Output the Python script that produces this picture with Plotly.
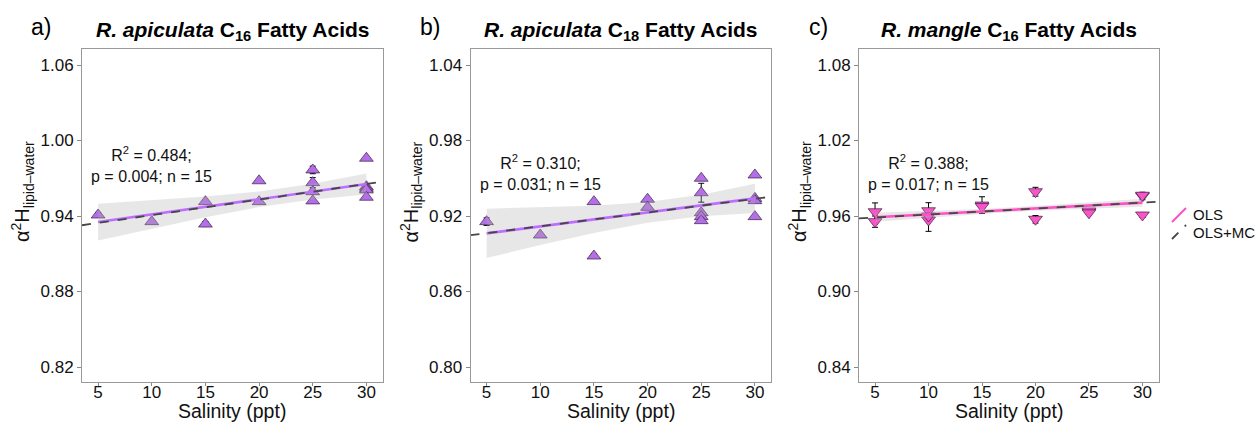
import plotly.graph_objects as go

W, H = 1256, 423

# ---------------- data ----------------
salinity_a = [5, 10, 15, 15, 20, 20, 25, 25, 25, 25, 30, 30, 30, 30, 30]
alpha_a = [0.9408, 0.9355, 0.9514, 0.9336, 0.9680, 0.9514, 0.9766, 0.9665, 0.9593,
           0.9520, 0.9859, 0.9633, 0.9620, 0.9607, 0.9549]
err_a = [0.002, 0.0, 0.0, 0.002, 0.0, 0.0, 0.003, 0.004, 0.0, 0.001, 0.0, 0.0, 0.0, 0.002, 0.001]

salinity_b = [5, 10, 15, 15, 20, 20, 25, 25, 25, 25, 25, 30, 30, 30, 30]
alpha_b = [0.9155, 0.9049, 0.9314, 0.8882, 0.9333, 0.9269, 0.9500, 0.9385, 0.9226,
           0.9195, 0.9163, 0.9526, 0.9340, 0.9322, 0.9195]
err_b = [0.003, 0.0, 0.0, 0.002, 0.0, 0.0, 0.0015, 0.0075, 0.0, 0.0, 0.0, 0.0, 0.001, 0.0, 0.0]

salinity_c = [5, 5, 10, 10, 10, 15, 15, 20, 20, 25, 25, 25, 30, 30, 30]
alpha_c = [0.9634, 0.9555, 0.9642, 0.9568, 0.9600, 0.9687, 0.9675, 0.9793, 0.9574,
           0.9634, 0.9640, 0.9625, 0.9759, 0.9765, 0.9608]
err_c = [0.007, 0.0045, 0.0064, 0.009, 0.0, 0.0066, 0.0, 0.0035, 0.003, 0.002, 0.0, 0.0,
         0.003, 0.0, 0.002]

# OLS fit line and its confidence band (read at these salinities)
band_x = [5, 10, 15, 20, 25, 30]
ols_a = [0.9352, 0.9412, 0.9473, 0.9533, 0.9594, 0.9654]
upper_a = [0.9498, 0.9524, 0.9555, 0.9595, 0.9657, 0.9738]
lower_a = [0.9206, 0.9300, 0.9391, 0.9471, 0.9531, 0.9570]

ols_b = [0.9062, 0.9118, 0.9173, 0.9229, 0.9284, 0.9340]
upper_b = [0.9258, 0.9267, 0.9281, 0.9311, 0.9369, 0.9456]
lower_b = [0.8866, 0.8969, 0.9065, 0.9147, 0.9199, 0.9224]

ols_c = [0.9590, 0.9613, 0.9636, 0.9660, 0.9683, 0.9706]
upper_c = [0.9625, 0.9639, 0.9656, 0.9679, 0.9707, 0.9738]
lower_c = [0.9555, 0.9587, 0.9616, 0.9641, 0.9659, 0.9674]

# OLS+MC line: (intercept, slope)
mc_a = (0.9283, 0.001240)
mc_b = (0.9009, 0.001092)
mc_c = (0.9565, 0.000472)

stats_text = ["R<sup>2</sup> = 0.484;<br>p = 0.004; n = 15",
              "R<sup>2</sup> = 0.310;<br>p = 0.031; n = 15",
              "R<sup>2</sup> = 0.388;<br>p = 0.017; n = 15"]
titles = ["<b><i>R. apiculata</i> C<sub>16</sub> Fatty Acids</b>",
          "<b><i>R. apiculata</i> C<sub>18</sub> Fatty Acids</b>",
          "<b><i>R. mangle</i> C<sub>16</sub> Fatty Acids</b>"]
panel_labels = ["a)", "b)", "c)"]
yticks_a = [0.82, 0.88, 0.94, 1.00, 1.06]
yticks_b = [0.80, 0.86, 0.92, 0.98, 1.04]
yticks_c = [0.84, 0.90, 0.96, 1.02, 1.08]
xticks = [5, 10, 15, 20, 25, 30]
x_title = "Salinity (ppt)"
y_title = "α<sup>2</sup>H<sub>lipid–water</sub>"
legend_labels = ["OLS", "OLS+MC"]

# ---------------- styling / layout ----------------
FONT = "Liberation Sans, Arial, sans-serif"
purple = "rgb(180,110,232)"
pink = "rgb(250,85,200)"
ols_purple = "rgb(190,110,255)"
ols_pink = "rgb(255,80,196)"
ribbon = "rgba(175,175,175,0.30)"

x_range = [3.5, 31.5]
px_dom = [(82, 382.5), (470.5, 771), (859, 1158.5)]
y_top, y_bot = 49, 381.7
ydom = [1 - y_bot / H, 1 - y_top / H]

def yrange(ticks):
    step = ticks[1] - ticks[0]
    per_px = step / 75.5
    return [ticks[0] - (381.7 - 367) * per_px, ticks[-1] + (65 - 49) * per_px]

panels = [
    dict(sal=salinity_a, val=alpha_a, err=err_a, ols=ols_a, up=upper_a, lo=lower_a,
         mc=mc_a, yt=yticks_a, color=purple, lcol=ols_purple, sym="triangle-up"),
    dict(sal=salinity_b, val=alpha_b, err=err_b, ols=ols_b, up=upper_b, lo=lower_b,
         mc=mc_b, yt=yticks_b, color=purple, lcol=ols_purple, sym="triangle-up"),
    dict(sal=salinity_c, val=alpha_c, err=err_c, ols=ols_c, up=upper_c, lo=lower_c,
         mc=mc_c, yt=yticks_c, color=pink, lcol=ols_pink, sym="triangle-down"),
]

fig = go.Figure()
annotations = []
layout = {}

for i, p in enumerate(panels):
    sfx = "" if i == 0 else str(i + 1)
    xa, ya = "x" + sfx, "y" + sfx
    # points
    fig.add_trace(go.Scatter(
        x=p["sal"], y=p["val"], mode="markers", xaxis=xa, yaxis=ya,
        marker=dict(symbol=p["sym"], size=12, color=p["color"],
                    line=dict(color="rgba(50,30,60,0.85)", width=0.8)),
        error_y=dict(type="data", array=p["err"], color="black", thickness=1, width=3),
        showlegend=False, hoverinfo="skip"))
    # confidence ribbon
    fig.add_trace(go.Scatter(
        x=band_x + band_x[::-1], y=p["up"] + p["lo"][::-1], mode="lines", fill="toself",
        fillcolor=ribbon, line=dict(width=0), xaxis=xa, yaxis=ya,
        showlegend=False, hoverinfo="skip"))
    # OLS line
    fig.add_trace(go.Scatter(
        x=band_x, y=p["ols"], mode="lines", line=dict(color=p["lcol"], width=2.6),
        xaxis=xa, yaxis=ya, showlegend=False, hoverinfo="skip"))
    # OLS+MC dashed line
    b0, b1 = p["mc"]
    fig.add_trace(go.Scatter(
        x=x_range, y=[b0 + b1 * x_range[0], b0 + b1 * x_range[1]], mode="lines",
        line=dict(color="rgb(70,70,70)", width=1.8, dash="dash"),
        xaxis=xa, yaxis=ya, showlegend=False, hoverinfo="skip"))

    d0, d1 = px_dom[i]
    layout["xaxis" + sfx] = dict(
        domain=[d0 / W, d1 / W], range=x_range, anchor=ya, tickvals=xticks,
        ticks="outside", ticklen=3, tickcolor="#888", showline=True, linecolor="#999",
        linewidth=1, mirror=True, showgrid=False, zeroline=False, ticklabelstandoff=-8,
        tickfont=dict(family=FONT, size=17, color="#111"))
    layout["yaxis" + sfx] = dict(
        domain=ydom, range=yrange(p["yt"]), anchor=xa, tickvals=p["yt"],
        ticktext=["%.2f" % v for v in p["yt"]],
        ticks="outside", ticklen=4, tickcolor="#888", showline=True, linecolor="#999",
        linewidth=1, mirror=True, showgrid=False, zeroline=False,
        tickfont=dict(family=FONT, size=17, color="#111"))

    cx = (d0 + d1) / 2 / W
    annotations.append(dict(text=titles[i], x=cx, y=1 - 31 / H, xref="paper", yref="paper",
                            showarrow=False, xanchor="center", yanchor="middle",
                            font=dict(family=FONT, size=21, color="#000")))
    annotations.append(dict(text=panel_labels[i], x=(d0 - 41) / W, y=1 - 27 / H,
                            xref="paper", yref="paper", showarrow=False,
                            xanchor="center", yanchor="middle",
                            font=dict(family=FONT, size=23, color="#000")))
    annotations.append(dict(text=y_title, textangle=-90,
                            x=(d0 - 60) / W, y=1 - 192 / H, xref="paper", yref="paper",
                            showarrow=False, xanchor="center", yanchor="middle",
                            font=dict(family=FONT, size=20, color="#111")))
    annotations.append(dict(text=x_title, x=cx, y=0, xref="paper", yref="paper",
                            showarrow=False, xanchor="center", yanchor="bottom", borderpad=0,
                            font=dict(family=FONT, size=19.5, color="#111")))
    stat_y = [164, 172.5, 172.5][i]
    annotations.append(dict(text=stats_text[i], x=10, y=1 - (stat_y - y_top) / (y_bot - y_top),
                            xref=xa, yref=ya + " domain", showarrow=False,
                            xanchor="center", yanchor="middle", align="center",
                            font=dict(family=FONT, size=16, color="#111")))

# legend keys (diagonal lines like ggplot abline keys)
shapes = [
    dict(type="line", xref="paper", yref="paper", x0=1172 / W, y0=1 - 222 / H,
         x1=1186 / W, y1=1 - 208 / H, line=dict(color=ols_pink, width=2)),
    dict(type="line", xref="paper", yref="paper", x0=1172 / W, y0=1 - 239 / H,
         x1=1186 / W, y1=1 - 225 / H, line=dict(color="rgb(70,70,70)", width=1.8, dash="dash")),
]
for k, lab in enumerate(legend_labels):
    annotations.append(dict(text=lab, x=1191 / W, y=1 - (215 + 17 * k) / H,
                            xref="paper", yref="paper", showarrow=False,
                            xanchor="left", yanchor="middle",
                            font=dict(family=FONT, size=15, color="#111")))

fig.update_layout(width=W, height=H, margin=dict(l=0, r=0, t=0, b=0),
                  paper_bgcolor="white", plot_bgcolor="white",
                  annotations=annotations, shapes=shapes, showlegend=False, **layout)

fig.write_html("out.html", include_plotlyjs=True, full_html=True,
               config={"displayModeBar": False})
